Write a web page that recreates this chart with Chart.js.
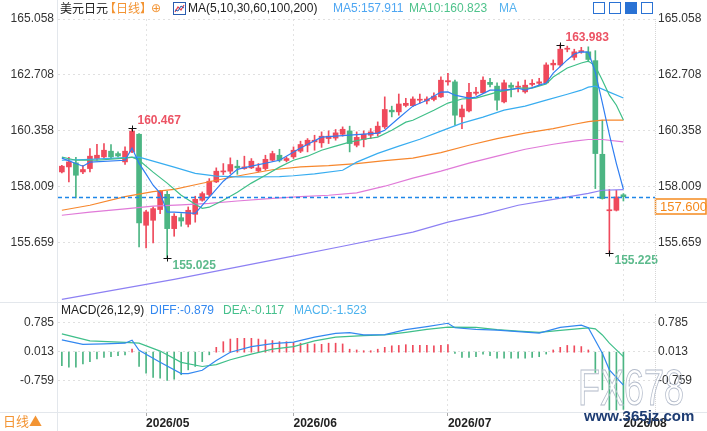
<!DOCTYPE html>
<html>
<head>
<meta charset="utf-8">
<title>美元日元 日线</title>
<script src="https://cdn.jsdelivr.net/npm/chart.js@4.4.1/dist/chart.umd.min.js"></script>
<style>
  body { margin: 0; background: #fff; }
  #wrap { position: relative; width: 707px; height: 431px; overflow: hidden;
          font-family: "Liberation Sans", Arial, sans-serif; font-size: 12px; color: #222; }
  canvas { position: absolute; left: 0; }
  #main { top: 0; }
  #macd { top: 302px; }
  .t { position: absolute; white-space: nowrap; line-height: 14px; }
  .cjk { font-family: "Noto Sans CJK SC", sans-serif; }
  .ln { position: absolute; background: #e3e7ec; }
  .dot { position: absolute; width: 0; border-left: 1px dotted #d6d6d6; }
  .ico { position: absolute; top: 2px; width: 12px; height: 12px; border: 1px solid #2a72d4; box-sizing: border-box; }
</style>
</head>
<body>
<div id="wrap">
  <canvas id="macd" width="707" height="129"></canvas>
  <canvas id="main" width="707" height="302"></canvas>

  <div class="ln" style="left:57px;top:0;width:1px;height:431px"></div>
  <div class="ln" style="left:0;top:302px;width:707px;height:1px"></div>
  <div class="ln" style="left:0;top:412px;width:707px;height:1px"></div>
  <div class="dot" style="left:655px;top:19px;height:283px"></div>
  <div class="dot" style="left:655px;top:314px;height:98px"></div>

  <!-- header, price panel -->
  <div class="t cjk" style="left:60px;top:1px">美元日元</div>
  <div class="t cjk" style="left:104px;top:1px;color:#f39433">【日线】</div>
  <div class="t" style="left:151px;top:1px;color:#f39433;font-family:'DejaVu Sans'">⊕</div>
  <svg style="position:absolute;left:173px;top:2px" width="13" height="13">
    <rect x="0.5" y="0.5" width="12" height="12" fill="#fff" stroke="#2a5db0"/>
    <polyline points="2,10 5,5 8,8 11,3" fill="none" stroke="#e0404f" stroke-width="1.2"/>
    <polyline points="2,8 5,9 8,4 11,6" fill="none" stroke="#2a5db0" stroke-width="1"/>
  </svg>
  <div class="t" style="left:188px;top:1px">MA(5,10,30,60,100,200)</div>
  <div class="t" style="left:333px;top:1px;color:#4ea6f2">MA5:157.911</div>
  <div class="t" style="left:409px;top:1px;color:#4fc38c">MA10:160.823</div>
  <div class="t" style="left:499px;top:1px;color:#56b2ef">MA</div>
  <div class="ico" style="left:593px"></div>
  <div class="ico" style="left:609px"></div>
  <div class="ico" style="left:625px;background:#2a72d4"></div>
  <div class="ico" style="left:641px"></div>

  <!-- header, MACD panel -->
  <div class="t" style="left:61px;top:303px">MACD(26,12,9)</div>
  <div class="t" style="left:150px;top:303px;color:#3388f0">DIFF:-0.879</div>
  <div class="t" style="left:223px;top:303px;color:#45c08c">DEA:-0.117</div>
  <div class="t" style="left:294px;top:303px;color:#4db3ee">MACD:-1.523</div>

  <div class="t cjk" style="left:3px;top:414px;font-size:13px;color:#f39433">日线▲</div>

  <!-- watermark -->
  <div class="t" style="left:578px;top:360px;font-size:50px;line-height:56px;color:transparent;-webkit-text-stroke:1px #b4bccb;transform:scaleX(0.72);transform-origin:left top">FX678</div>
  <div class="t" style="left:584px;top:408px;font-size:15px;line-height:16px;font-weight:bold;color:#1d3c73">www.365jz.com</div>
</div>

<script>
// ---- candles (daily), index 0 = first visible day ----
const opens = [158.64,158.85,159.02,158.64,158.78,159.20,159.27,159.51,159.41,159.06,
  159.48,160.22,156.40,156.61,157.06,157.70,156.26,156.72,156.44,156.86,
  157.45,157.69,158.22,158.64,158.67,158.88,158.78,158.81,158.68,158.78,
  159.13,159.34,159.12,159.27,159.51,159.76,159.90,159.86,160.04,160.06,
  160.22,160.36,159.76,160.00,160.18,160.25,160.53,161.23,161.16,161.43,
  161.42,161.65,161.62,161.68,161.79,162.42,162.42,160.95,161.20,161.94,
  161.96,162.40,162.24,161.58,162.28,162.19,162.00,162.31,162.36,162.38,
  163.13,163.13,163.79,163.45,163.68,163.68,163.31,159.38,157.01,157.03,
  157.68];
const highs = [158.92,159.25,159.25,158.92,159.62,159.80,159.83,159.79,159.48,159.69,
  160.467,160.25,157.03,157.17,157.87,157.83,156.89,156.89,157.17,157.62,
  157.80,158.36,158.81,158.99,159.23,159.13,159.30,159.20,158.99,159.34,
  159.51,159.59,159.27,159.69,159.93,160.04,160.18,160.32,160.36,160.42,
  160.53,160.56,160.32,160.36,160.46,160.74,161.79,161.40,161.91,161.73,
  161.79,161.91,161.79,161.96,162.63,162.78,162.49,161.44,162.36,162.19,
  162.63,162.57,162.38,162.49,162.38,162.42,162.49,162.52,162.57,163.22,
  163.34,163.983,163.92,163.79,163.87,163.89,163.73,160.81,157.90,157.87,
  157.73];
const lows = [158.60,158.22,157.55,158.57,158.64,159.13,159.20,159.20,159.27,158.95,
  159.45,155.49,155.45,155.66,156.89,155.025,155.94,156.36,156.33,156.53,
  157.41,157.59,158.19,158.53,158.57,158.54,158.75,158.78,158.64,158.71,
  159.09,159.06,159.06,159.20,159.45,159.48,159.55,159.67,159.83,159.97,
  160.14,159.48,159.69,159.69,160.04,160.14,160.46,160.95,161.02,161.37,
  161.38,161.53,161.49,161.62,161.77,162.28,160.60,160.46,161.16,161.86,
  161.94,162.21,161.23,161.54,161.79,162.00,161.94,162.24,162.28,162.36,
  162.92,163.05,163.68,163.34,163.62,163.26,157.94,157.50,155.225,157.00,
  157.42];
const closes = [158.88,159.06,158.50,158.74,159.30,159.34,159.55,159.27,159.31,159.51,
  160.35,156.50,156.96,157.10,157.83,156.26,156.78,156.58,157.03,157.49,
  157.73,158.25,158.67,158.67,158.95,158.81,158.85,159.09,158.81,159.17,
  159.41,159.13,159.20,159.55,159.79,159.97,159.97,160.14,160.14,160.28,
  160.43,159.83,160.09,160.22,160.32,160.56,161.26,161.16,161.49,161.52,
  161.70,161.68,161.70,161.82,162.49,162.47,161.02,161.28,161.98,161.99,
  162.49,162.31,161.65,162.38,162.19,162.24,162.28,162.36,162.42,163.13,
  163.20,163.79,163.83,163.68,163.73,163.36,159.41,157.52,157.05,157.59,
  157.600];

// ---- moving averages: [day index, value] ----
const ma5 = [[0,159.22],[3,158.88],[4,159.05],[9,159.13],[10,159.64],[11,159.0],[12,158.55],[13,158.08],
  [14,157.75],[15,156.95],[16,156.95],[19,156.90],[23,158.25],[25,158.75],[27,158.88],[31,159.13],
  [34,159.64],[37,160.10],[41,160.18],[45,160.27],[46,160.39],[48,160.90],[50,161.40],[52,161.65],
  [54,161.99],[55,162.00],[56,161.86],[58,161.74],[59,161.78],[61,162.07],[63,162.07],[65,162.15],
  [66,162.07],[68,162.28],[69,162.37],[70,162.79],[72,163.34],[73,163.59],[74,163.68],[75,163.67],
  [76,162.83],[77,161.54],[78,160.21],[79,158.99],[80,157.911]];
const ma10 = [[0,159.26],[2,159.13],[5,159.13],[9,159.22],[10,159.26],[11,159.13],[13,158.63],[15,158.17],
  [17,157.66],[19,157.28],[20,157.11],[21,157.16],[23,157.45],[25,157.79],[27,158.17],[29,158.50],
  [31,158.84],[33,159.13],[35,159.30],[37,159.55],[39,159.72],[41,159.89],[43,160.01],[45,160.10],
  [47,160.39],[49,160.73],[50,160.81],[53,161.23],[55,161.53],[57,161.70],[59,161.74],[62,161.99],
  [65,162.16],[67,162.16],[69,162.33],[70,162.62],[72,163.00],[74,163.21],[75,163.29],[76,163.08],
  [77,162.49],[78,161.86],[79,161.44],[80,160.823]];
const ma30 = [[0,159.13],[4,159.17],[9,159.24],[11,159.26],[13,159.09],[16,158.84],[19,158.58],[22,158.46],
  [25,158.43],[31,158.44],[33,158.48],[36,158.56],[40,158.71],[42,159.05],[45,159.42],[48,159.72],
  [51,160.01],[54,160.35],[57,160.69],[60,160.94],[63,161.23],[66,161.40],[69,161.65],[72,161.90],
  [74,162.07],[75,162.20],[76,162.24],[78,161.99],[80,161.74]];
const ma60 = [[0,157.03],[4,157.24],[9,157.60],[13,157.81],[16,157.91],[19,158.10],[22,158.29],[26,158.52],
  [30,158.73],[34,158.85],[38,158.90],[42,158.99],[46,159.11],[50,159.22],[54,159.45],[58,159.76],
  [62,160.04],[66,160.27],[70,160.46],[73,160.64],[75,160.75],[77,160.81],[80,160.81]];
const ma100 = [[0,156.82],[4,156.95],[9,157.09],[13,157.20],[17,157.26],[21,157.32],[25,157.42],[30,157.53],
  [34,157.60],[38,157.66],[42,157.76],[46,158.04],[50,158.38],[54,158.67],[58,159.01],[62,159.30],
  [66,159.59],[70,159.80],[73,159.93],[75,160.00],[77,160.00],[80,159.90]];
const ma200 = [[0,153.29],[8,153.71],[16,154.13],[24,154.59],[32,155.05],[40,155.52],[50,156.11],[55,156.53],
  [60,156.86],[65,157.24],[70,157.49],[75,157.74],[77,157.87],[80,157.90]];

// ---- MACD ----
const macdHist = [-0.36,-0.40,-0.40,-0.31,-0.25,-0.18,-0.14,-0.12,-0.09,-0.07,
  0.08,-0.38,-0.56,-0.67,-0.69,-0.75,-0.72,-0.60,-0.47,-0.38,
  -0.25,-0.07,0.13,0.28,0.35,0.37,0.37,0.37,0.35,0.33,
  0.31,0.28,0.28,0.26,0.24,0.22,0.22,0.21,0.24,0.24,
  0.22,0.08,0.06,0.04,0.04,0.08,0.13,0.17,0.18,0.20,
  0.18,0.18,0.18,0.17,0.18,0.20,-0.03,-0.14,-0.14,-0.12,
  -0.05,-0.09,-0.16,-0.16,-0.16,-0.16,-0.16,-0.14,-0.12,-0.05,
  0.06,0.13,0.18,0.17,0.15,0.06,-0.54,-1.00,-1.54,-1.54,
  -1.523];
const diff = [[0,0.33],[3,0.21],[6,0.22],[9,0.24],[10,0.32],[11,0.05],[14,-0.27],[17,-0.57],[18,-0.57],
  [20,-0.48],[22,-0.22],[24,0.0],[27,0.15],[30,0.23],[33,0.27],[36,0.40],[39,0.50],[41,0.52],[43,0.46],
  [46,0.47],[49,0.60],[52,0.68],[55,0.77],[56,0.65],[59,0.61],[62,0.59],[65,0.55],[68,0.51],[71,0.66],
  [74,0.72],[75,0.65],[77,-0.03],[78,-0.47],[80,-0.879]];
const dea = [[0,0.49],[4,0.30],[9,0.26],[11,0.24],[14,0.03],[17,-0.27],[20,-0.38],[22,-0.33],[24,-0.20],
  [27,-0.05],[30,0.08],[33,0.15],[36,0.30],[39,0.40],[43,0.44],[46,0.46],[49,0.53],[52,0.61],[55,0.67],
  [59,0.66],[62,0.60],[65,0.56],[68,0.53],[71,0.58],[75,0.65],[76,0.62],[77,0.46],[78,0.24],[80,-0.117]];

// ---- axes ----
const priceTicks = [165.058, 162.708, 160.358, 158.009, 155.659];
const macdTicks = [0.785, 0.013, -0.759];
const monthIdx = [12, 33, 55, 80];
const monthLabels = ['2026/05', '2026/06', '2026/07', '2026/08'];
const marks = [[10, 'high'], [15, 'low'], [71, 'high'], [78, 'low']];

const UP = '#ef4a5c', DOWN = '#4cb583';
const FONT = '"Liberation Sans", Arial, sans-serif';
const X_MIN = -0.55, X_MAX = 84.5;

Chart.defaults.font.family = FONT;
Chart.defaults.font.size = 12;
Chart.defaults.animation = false;

const toPts = arr => arr.map(([i, v]) => ({ x: i, y: v }));
const candleColor = ctx => closes[ctx.dataIndex] >= opens[ctx.dataIndex] ? UP : DOWN;
const maLine = (label, arr, color) => ({
  type: 'line', label, data: toPts(arr), borderColor: color, borderWidth: 1.2,
  pointRadius: 0, tension: 0, order: 1
});

function xAxis(showLabels) {
  return {
    type: 'linear', min: X_MIN, max: X_MAX, offset: false,
    afterBuildTicks: s => { s.ticks = monthIdx.map(v => ({ value: v })); },
    ticks: showLabels
      ? { callback: (v, i) => monthLabels[i], align: 'start', autoSkip: false, maxRotation: 0,
          color: '#222', font: { weight: 'bold', size: 12 }, padding: 0 }
      : { display: false },
    grid: { color: '#e3e3e3', offset: false, drawTicks: showLabels, tickLength: 4,
            tickColor: '#aaa', tickBorderDash: [] },
    border: { display: false, dash: [2, 3] },
    afterFit: s => { s.height = showLabels ? 19 : 0; s.paddingLeft = 0; s.paddingRight = 0; }
  };
}

function yAxis(side, min, max, ticks) {
  const left = side === 'left';
  return {
    position: side, min, max,
    afterBuildTicks: s => { s.ticks = ticks.map(v => ({ value: v })); },
    ticks: { callback: v => v.toFixed(3), color: '#333', font: { size: 12 }, padding: left ? 4 : 3 },
    grid: { display: left, color: '#e0e0e0', drawTicks: false },
    border: { display: false, dash: [2, 3] },
    afterFit: s => { s.width = left ? 58 : 52; s.paddingTop = 0; s.paddingBottom = 0; }
  };
}

// price line, last-price tag and high/low marks
const markPlugin = {
  id: 'marks',
  afterDatasetsDraw(chart) {
    const { ctx, chartArea: a, scales: { x, y } } = chart;
    const last = closes[closes.length - 1];
    const py = Math.round(y.getPixelForValue(last)) + 0.5;
    ctx.save();
    ctx.strokeStyle = '#1e86e8';
    ctx.lineWidth = 1.5;
    ctx.setLineDash([4, 3]);
    ctx.beginPath(); ctx.moveTo(a.left, py); ctx.lineTo(a.right, py); ctx.stroke();
    ctx.setLineDash([]);

    ctx.fillStyle = '#fff';
    ctx.fillRect(a.right, py + 1, 52, 16);
    ctx.strokeStyle = '#f58a1f';
    ctx.lineWidth = 1.5;
    ctx.strokeRect(a.right + 0.5, py + 1.5, 50.5, 15);
    ctx.fillStyle = '#f5891c';
    ctx.font = '13px ' + FONT;
    ctx.textBaseline = 'middle';
    ctx.textAlign = 'left';
    ctx.fillText(last.toFixed(3), a.right + 5, py + 9.5);

    ctx.font = 'bold 12px ' + FONT;
    marks.forEach(([i, kind]) => {
      const v = kind === 'high' ? highs[i] : lows[i];
      const px = Math.round(x.getPixelForValue(i)) + 0.5;
      const vy = Math.round(y.getPixelForValue(v)) + 0.5;
      ctx.strokeStyle = '#111';
      ctx.lineWidth = 1;
      ctx.beginPath();
      ctx.moveTo(px - 4, vy); ctx.lineTo(px + 4, vy);
      ctx.moveTo(px, vy - 3); ctx.lineTo(px, vy + 3);
      ctx.stroke();
      ctx.fillStyle = kind === 'high' ? '#ec5364' : '#5cba8c';
      ctx.fillText(v.toFixed(3), px + 5, kind === 'high' ? vy - 8 : vy + 7);
    });
    ctx.restore();
  }
};

new Chart(document.getElementById('main'), {
  type: 'bar',
  data: {
    datasets: [
      maLine('MA5', ma5, '#2f7ef2'),
      maLine('MA10', ma10, '#3fbf88'),
      maLine('MA30', ma30, '#38adf0'),
      maLine('MA60', ma60, '#f7872d'),
      maLine('MA100', ma100, '#e07ad8'),
      maLine('MA200', ma200, '#8d80f3'),
      {
        type: 'bar', label: 'wick', order: 3, grouped: false, barThickness: 1,
        data: lows.map((l, i) => ({ x: i, y: [l, highs[i]] })),
        backgroundColor: candleColor
      },
      {
        type: 'bar', label: 'body', order: 2, grouped: false, barThickness: 5, minBarLength: 1,
        data: opens.map((o, i) => ({ x: i, y: [o, closes[i]] })),
        backgroundColor: candleColor
      }
    ]
  },
  options: {
    responsive: false,
    events: [],
    layout: { padding: { top: 19, bottom: 0, left: 0, right: 0 } },
    plugins: { legend: { display: false }, tooltip: { enabled: false } },
    scales: {
      x: xAxis(false),
      y: yAxis('left', 153.18, 165.058, priceTicks),
      yr: yAxis('right', 153.18, 165.058, priceTicks)
    }
  },
  plugins: [markPlugin]
});

new Chart(document.getElementById('macd'), {
  type: 'bar',
  data: {
    datasets: [
      { type: 'line', label: 'DIFF', data: toPts(diff), borderColor: '#3388f0', borderWidth: 1.2,
        pointRadius: 0, tension: 0, order: 1 },
      { type: 'line', label: 'DEA', data: toPts(dea), borderColor: '#3fbf8a', borderWidth: 1.2,
        pointRadius: 0, tension: 0, order: 1 },
      { type: 'bar', label: 'MACD', order: 2, grouped: false, barThickness: 1,
        data: macdHist.map((v, i) => ({ x: i, y: v })),
        backgroundColor: ctx => macdHist[ctx.dataIndex] >= 0 ? UP : DOWN }
    ]
  },
  options: {
    responsive: false,
    events: [],
    layout: { padding: { top: 12, bottom: 0, left: 0, right: 0 } },
    plugins: { legend: { display: false }, tooltip: { enabled: false } },
    scales: {
      x: xAxis(true),
      y: yAxis('left', -1.592, 1.017, macdTicks),
      yr: yAxis('right', -1.592, 1.017, macdTicks)
    }
  }
});
</script>
</body>
</html>
